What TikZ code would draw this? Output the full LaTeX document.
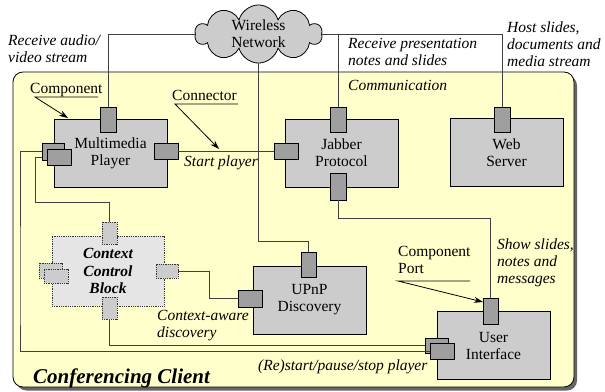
\documentclass[tikz,border=0pt]{standalone}
\usepackage{fontspec}
\setmainfont{Liberation Serif}
\usetikzlibrary{shapes.symbols,arrows.meta}
\definecolor{paleyellow}{HTML}{FFFFCC}
\begin{document}
\begin{tikzpicture}[x=1pt,y=-1pt,
  txt/.style={font=\fontsize{15.5}{17}\selectfont, inner sep=0pt, align=left},
  itxt/.style={inner sep=0pt, align=left, font=\fontsize{15.5}{17}\selectfont\itshape},
  comp/.style={draw=black, fill=gray!40, line width=0.8pt, minimum width=113pt, minimum height=68pt, align=center, font=\fontsize{15.5}{17}\selectfont, inner sep=0pt},
  ccbox/.style={draw=black!80, densely dotted, fill=gray!20, line width=0.8pt, minimum width=112pt, minimum height=70pt, align=center, font=\fontsize{15.5}{17.5}\selectfont\bfseries\itshape, inner sep=0pt},
  vport/.style={draw=black, fill=gray!75, line width=0.8pt, minimum width=16pt, minimum height=25pt, inner sep=0pt},
  hport/.style={draw=black, fill=gray!75, line width=0.8pt, minimum width=24pt, minimum height=16pt, inner sep=0pt},
  cport/.style={draw=black!80, densely dotted, fill=gray!40, line width=0.8pt, inner sep=0pt},
  wire/.style={draw=black!75, line width=0.9pt},
  pointer/.style={draw=black, line width=0.8pt, -{Stealth[length=9pt,width=6pt]}}
]
\useasboundingbox (0,0) rectangle (605,391);
% outer container
\fill[black!60, rounded corners=10pt] (16.5,75.5) rectangle (577,390.5);
\draw[fill=paleyellow, rounded corners=10pt, line width=0.8pt] (13,72) rectangle (574,387);

% components
\node[comp] (mp) at (110.5,153) {Multimedia\\Player};
\node[comp] (jab) at (341.5,153) {Jabber\\Protocol};
\node[comp] (web) at (506.5,152.5) {Web\\Server};
\node[comp] (upnp) at (309.5,300) {UPnP\\Discovery};
\node[comp] (ui) at (493.5,345.5) {User\\Interface};
\node[ccbox] (ccb) at (108,271) {Context\\Control\\Block};

% ports
\node[vport] (mpT) at (108,119.5) {};
\node[hport] (mpR) at (166,151) {};
\node[hport, minimum width=22pt, minimum height=17pt] (mpL1) at (53,151.5) {};
\node[hport] (mpL2) at (59,157.5) {};
\node[vport] (jabT) at (338,119.5) {};
\node[vport, minimum height=27pt] (jabB) at (338,186.5) {};
\node[hport] (jabL) at (286,151) {};
\node[vport] (webT) at (502,119.5) {};
\node[vport, minimum width=15pt] (upT) at (308.5,264.5) {};
\node[hport, minimum height=17pt] (upL) at (250,298.5) {};
\node[vport, minimum width=15pt, minimum height=26pt] (uiT) at (490.5,311) {};
\node[hport, minimum width=23pt, minimum height=15pt] (uiL1) at (436.5,345.5) {};
\node[hport] (uiL2) at (442,351) {};
\node[cport, minimum width=15pt, minimum height=22pt] (ccbT) at (109.5,233) {};
\node[cport, minimum width=15pt, minimum height=22pt] (ccbB) at (109.5,308) {};
\node[cport, minimum width=22pt, minimum height=14pt] (ccbR) at (167,271) {};
\node[cport, minimum width=23pt, minimum height=15pt] (ccbL1) at (50.5,270.5) {};
\node[cport, minimum width=24pt, minimum height=14pt] (ccbL2) at (56,276) {};

% network cloud
\node[cloud, cloud puffs=10, aspect=2.2, draw=black, fill=gray!40, line width=0.8pt, minimum width=127pt, minimum height=58pt, inner sep=0pt, align=center, font=\fontsize{15.5}{17}\selectfont] (net) at (258.5,34) {Wireless\\Network};

% bend points
\coordinate (c1) at (20,300);
\coordinate (c2) at (35,202);
\coordinate (c3) at (209,271);
\coordinate (c4) at (258.5,241);
\coordinate (c5) at (338,218);

% wires
\draw[wire] (mpT.north) |- (net.west);
\draw[wire] (net.east) -| (webT.north);
\draw[wire] (jabT.north) |- (net.east);
\draw[wire] (net.south) -- (c4) -| (upT.north);
\draw[wire] (mpR.east) -- (jabL.west);
\draw[wire] (jabB.south) -- (c5) -| (uiT.north);
\draw[wire] (mpL1.west) -| (c1) |- (uiL2.west);
\draw[wire] (mpL2.west) -| (c2) -| (ccbT.north);
\draw[wire] (ccbB.south) |- (uiL1.west);
\draw[wire] (ccbR.east) -- (c3) |- (upL.west);

% redraw ports on top of wires
\node[hport, minimum width=22pt, minimum height=17pt] at (53,151.5) {};
\node[hport] at (59,157.5) {};

% labels
\node[itxt, anchor=north west] (recvAV) at (8,35) {Receive audio/\\video stream};
\node[itxt, anchor=north west] (recvPN) at (348,38) {Receive presentation\\notes and slides};
\node[itxt, anchor=north west] (host) at (507,22) {Host slides,\\documents and\\media stream};
\node[itxt, anchor=base west] (comm) at (348,90) {Communication};
\node[txt, anchor=base west] (compLbl) at (30,93) {Component};
\node[txt, anchor=base west] (connLbl) at (172,100) {Connector};
\node[itxt, anchor=base west] (startLbl) at (184,166) {Start player};
\node[itxt, anchor=north west] (showLbl) at (497,239) {Show slides,\\notes and\\messages};
\node[txt, anchor=north west] (portLbl) at (398,246) {Component\\Port};
\node[itxt, anchor=north west] (ctxLbl) at (157,310) {Context-aware\\discovery};
\node[itxt, anchor=base west] (restartLbl) at (258,370) {(Re)start/pause/stop player};
\node[anchor=base west, inner sep=0pt, font=\fontsize{21}{24}\selectfont\bfseries\itshape] (client) at (33,383) {Conferencing Client};

% pointers
\coordinate (u1a) at (35,97);
\coordinate (u1b) at (98,97);
\coordinate (t1) at (68,118);
\coordinate (u2a) at (175,104);
\coordinate (u2b) at (238,104);
\coordinate (t2) at (219,149);
\coordinate (u3a) at (398,281);
\coordinate (u3b) at (470,281);
\coordinate (t3) at (483,302);
\draw[pointer] (u1b) -- (u1a) -- (t1);
\draw[pointer] (u2b) -- (u2a) -- (t2);
\draw[pointer] (u3b) -- (u3a) -- (t3);
\end{tikzpicture}
\end{document}
